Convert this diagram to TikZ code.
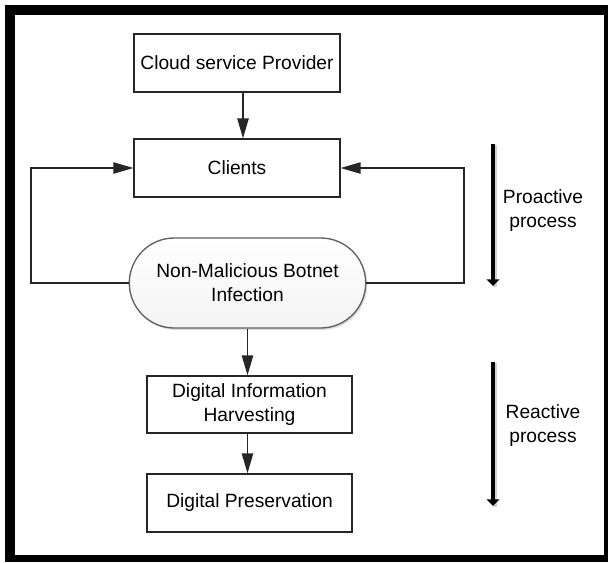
\documentclass[tikz,border=0pt]{standalone}
\usepackage{fontspec}
\setmainfont{Liberation Sans}
\usetikzlibrary{arrows.meta,shadows,shapes.misc}

\tikzset{
  box/.style={draw=black!85, line width=1pt, fill=white, align=center,
    minimum width=154.5pt, minimum height=43.5pt, inner sep=2pt},
  pill/.style={draw=gray!75!black, line width=1pt, align=center,
    rounded rectangle, minimum width=184pt, minimum height=67.5pt,
    top color=white, bottom color=gray!9,
    drop shadow={shadow xshift=1.2pt, shadow yshift=-1.5pt, opacity=0.25}},
  flow/.style={draw=black!85, line width=1.1pt,
    -{Triangle[length=15pt, width=8.5pt]}},
  phase/.style={draw=black, line width=3pt,
    -{Triangle[length=5pt, width=9.5pt]}},
  phaseshadow/.style={draw=black, opacity=0.18, line width=3pt},
  label/.style={align=center, inner sep=0pt}
}

\begin{document}
\begin{tikzpicture}[x=0.75pt, y=-0.75pt,
    every node/.append style={font=\fontsize{14.4}{18}\selectfont}]
  % canvas and heavy black frame
  \useasboundingbox (0,0) rectangle (608,562);
  \fill[white] (0,0) rectangle (608,562);
  \fill[black] (5,5) rectangle (608,562);
  \fill[white] (15,15) rectangle (604,555);

  % process boxes
  \node[box] (cloud) at (237,63) {Cloud service Provider};
  \node[box] (clients) at (237,168) {Clients};
  \node[pill] (infect) at (247.5,283) {Non-Malicious Botnet\\Infection};
  \node[box, minimum width=153.75pt, minimum height=42.75pt] (harvest)
    at (249.5,404.5) {Digital Information\\Harvesting};
  \node[box, minimum width=153.75pt] (preserve)
    at (249.5,503) {Digital Preservation};

  % loop corners
  \coordinate (loopL) at (31,283);
  \coordinate (loopR) at (464,283);

  % connectors
  \draw[flow] ([xshift=4.5pt]cloud.south) -- ([xshift=4.5pt]clients.north);
  \draw[flow] (infect.west) -- (loopL) |- (clients.west);
  \draw[flow] (infect.east) -- (loopR) |- (clients.east);
  \draw[flow] (infect.south) -- (infect.south |- harvest.north);
  \draw[flow] (harvest.south -| infect.south) -- (preserve.north -| infect.south);

  % phase arrows with their labels
  \coordinate (proTop) at (493,144);
  \coordinate (proEnd) at (493,286);
  \coordinate (reTop) at (493,362);
  \coordinate (reEnd) at (493,506);
  \draw[phaseshadow] ([xshift=1.5pt,yshift=-1pt]proTop) -- ([xshift=1.5pt,yshift=-1pt]proEnd);
  \draw[phaseshadow] ([xshift=1.5pt,yshift=-1pt]reTop) -- ([xshift=1.5pt,yshift=-1pt]reEnd);
  \draw[phase] (proTop) -- (proEnd);
  \draw[phase] (reTop) -- (reEnd);
  \node[label] (protext) at (543,211) {Proactive\\process};
  \node[label] (retext) at (543,426) {Reactive\\process};
\end{tikzpicture}
\end{document}
